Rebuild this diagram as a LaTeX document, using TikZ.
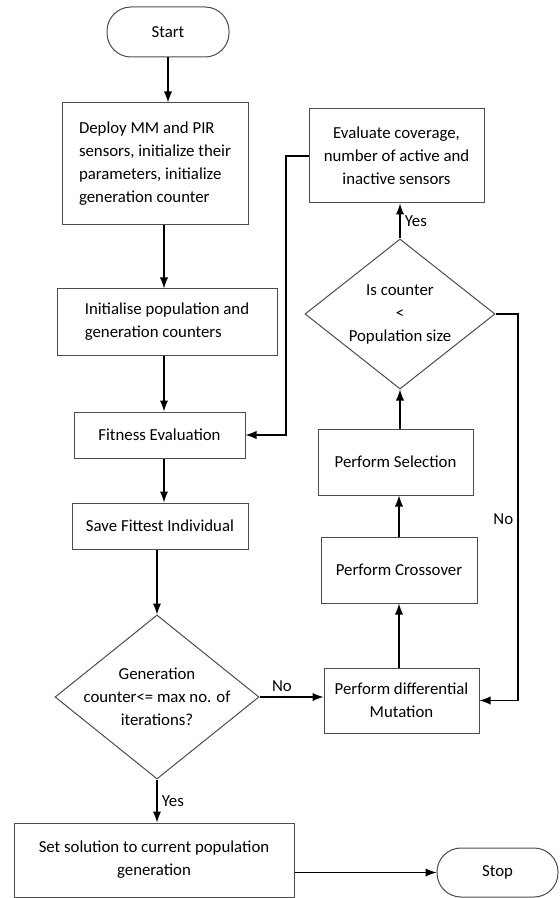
\documentclass[tikz,border=0pt]{standalone}
\usepackage{fontspec}
\setmainfont{Carlito}
\usepackage{tikz}
\usetikzlibrary{positioning,shapes,arrows}

\begin{document}
\begin{tikzpicture}[x=0.5pt, y=-0.5pt,
                    every node/.style={font=\fontsize{8.4}{11.5}\selectfont},
                    block/.style={rectangle, draw=black!70, line width=0.5pt, inner sep=2pt},
                    term/.style={rectangle, rounded corners=12pt, draw=black!70, line width=0.5pt,
                                 minimum width=61pt, minimum height=25pt},
                    decision/.style={diamond, draw=black!70, line width=0.5pt, inner sep=0pt},
                    line/.style={draw, line width=0.9pt, -latex},
                    lbl/.style={inner sep=2pt}]
                \useasboundingbox (0,0) rectangle (560,898);
                \coordinate (mainx) at (164,0);
                \coordinate (loopleft) at (286,0);
                \coordinate (loopright) at (518,0);
                % left column
                \node[term] (start) at (168,32) {Start};
                \node[block, align=left, minimum width=93pt, minimum height=61pt] (deploy) at (155,164)
                    {Deploy MM and PIR\\sensors, initialize their\\parameters, initialize\\generation counter};
                \node[block, align=left, minimum width=110pt, minimum height=33pt] (init) at (167,322)
                    {Initialise population and\\generation counters};
                \node[block, minimum width=85.5pt, minimum height=23pt] (fit) at (159.5,435) {Fitness Evaluation};
                \node[block, minimum width=88pt, minimum height=23pt] (save) at (160,526) {Save Fittest Individual};
                \node[decision, minimum width=102pt, minimum height=82pt,
                      label={[align=center]center:Generation\\counter<= max no. of\\iterations?}] (gen) at (157,697) {};
                \node[block, align=center, minimum width=140pt, minimum height=37pt] (set) at (154,860)
                    {Set solution to current population\\generation};
                \node[term, minimum width=60.5pt, minimum height=24.5pt] (stop) at (497.5,872.5) {Stop};
                % right column
                \node[block, align=center, minimum width=77.5pt, minimum height=32.5pt] (mut) at (401.5,700.5)
                    {Perform differential\\Mutation};
                \node[block, minimum width=78pt, minimum height=33pt] (cross) at (399,570) {Perform Crossover};
                \node[block, minimum width=77.5pt, minimum height=33pt] (sel) at (395.5,462) {Perform Selection};
                \node[decision, minimum width=95pt, minimum height=75pt,
                      label={[align=center]center:Is counter\\<\\Population size}] (cnt) at (400,314) {};
                \node[block, align=center, minimum width=87.5pt, minimum height=47pt] (eval) at (396.5,156)
                    {Evaluate coverage,\\number of active and\\inactive sensors};
                % connectors
                \draw[line] (start.south) -- (start.south |- deploy.north);
                \draw[line] (deploy.south -| mainx) -- (init.north -| mainx);
                \draw[line] (init.south -| mainx) -- (fit.north -| mainx);
                \draw[line] (fit.south -| mainx) -- (save.north -| mainx);
                \draw[line] (save.south -| gen.north) -- (gen.north);
                \draw[line] (gen.south) -- node[lbl, right] (yes1) {Yes} (gen.south |- set.north);
                \draw[line] (gen.east) -- node[lbl, above, pos=0.35] (no1) {No} (gen.east -| mut.west);
                \draw[line] (set.east |- stop.west) -- (stop.west);
                \draw[line] (mut.north -| cross.south) -- (cross.south);
                \draw[line] (cross.north) -- (cross.north |- sel.south);
                \draw[line] (sel.north -| cnt.south) -- (cnt.south);
                \draw[line] (cnt.north) -- node[lbl, right] (yes2) {Yes} (cnt.north |- eval.south);
                \draw[line] (eval.west) -- (eval.west -| loopleft) |- (fit.east);
                \draw[line] (cnt.east) -- (cnt.east -| loopright) |- node[lbl, left, pos=0.265] (no2) {No} (mut.east);
\end{tikzpicture}
\end{document}
